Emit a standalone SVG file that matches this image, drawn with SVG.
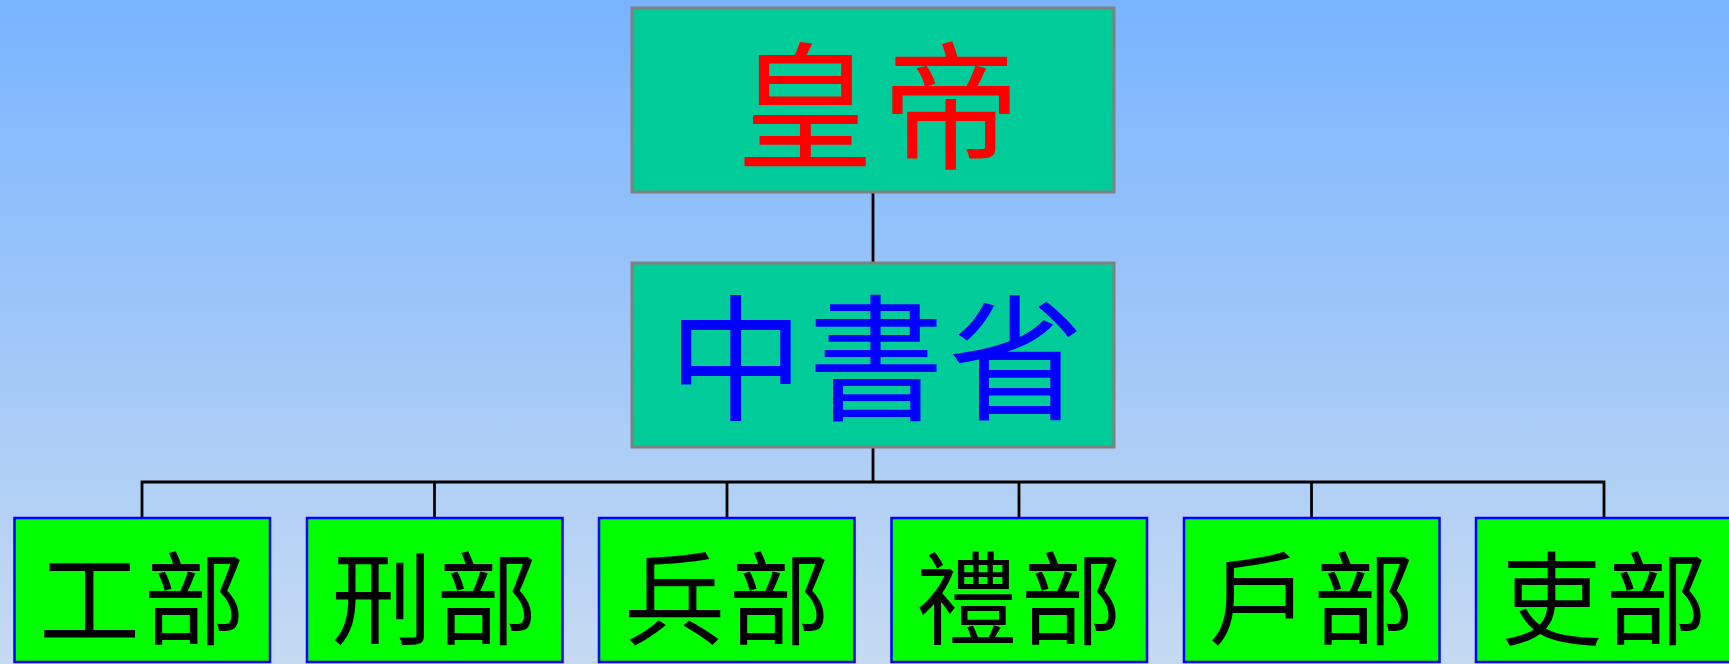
<svg xmlns="http://www.w3.org/2000/svg" width="1729" height="664" viewBox="0 0 1729 664">
<defs>
<linearGradient id="bg" x1="0" y1="0" x2="0" y2="1">
<stop offset="0" stop-color="#78B4FF"/>
<stop offset="1" stop-color="#C6DAF2"/>
</linearGradient>
</defs>
<style>
.top{fill:#00CC99;stroke:#808080;stroke-width:3}
.dept{fill:#00FF00;stroke:#0000FF;stroke-width:2.5}
.conn{fill:none;stroke:#000;stroke-width:2.8}
text{font-family:"Noto Sans CJK TC","Noto Sans CJK SC",sans-serif;text-anchor:middle;dominant-baseline:central}
.t1{font-size:138px;fill:#FF0000;letter-spacing:8px}
.t2{font-size:136px;fill:#0000FF;letter-spacing:4px}
.t3{font-size:101px;fill:#000000;letter-spacing:4px}
</style>
<rect x="0" y="0" width="1729" height="664" fill="url(#bg)"/>
<g id="connectors">
<line class="conn" x1="873" y1="192" x2="873" y2="263"/>
<line class="conn" x1="873" y1="447" x2="873" y2="482"/>
<polyline class="conn" points="142,518 142,482 1604,482 1604,518"/>
<line class="conn" x1="434.5" y1="482" x2="434.5" y2="518"/>
<line class="conn" x1="727" y1="482" x2="727" y2="518"/>
<line class="conn" x1="1019" y1="482" x2="1019" y2="518"/>
<line class="conn" x1="1311.5" y1="482" x2="1311.5" y2="518"/>
</g>
<g id="emperor">
<rect class="top" x="632" y="8" width="482" height="184"/>
<text class="t1" x="882" y="98">皇帝</text>
</g>
<g id="zhongshusheng">
<rect class="top" x="632" y="263" width="482" height="184"/>
<text class="t2" x="878" y="350">中書省</text>
</g>
<g id="gongbu">
<rect class="dept" x="14.5" y="518" width="255.5" height="144"/>
<text class="t3" x="144" y="593">工部</text>
</g>
<g id="xingbu">
<rect class="dept" x="307" y="518" width="255.5" height="144"/>
<text class="t3" x="436.5" y="593">刑部</text>
</g>
<g id="bingbu">
<rect class="dept" x="599" y="518" width="255.5" height="144"/>
<text class="t3" x="729" y="593">兵部</text>
</g>
<g id="libu">
<rect class="dept" x="891.5" y="518" width="255.5" height="144"/>
<text class="t3" x="1021" y="593">禮部</text>
</g>
<g id="hubu">
<rect class="dept" x="1184" y="518" width="255.5" height="144"/>
<text class="t3" x="1313.5" y="593">戶部</text>
</g>
<g id="libu2">
<rect class="dept" x="1476" y="518" width="260" height="144"/>
<text class="t3" x="1606" y="593">吏部</text>
</g>
</svg>
